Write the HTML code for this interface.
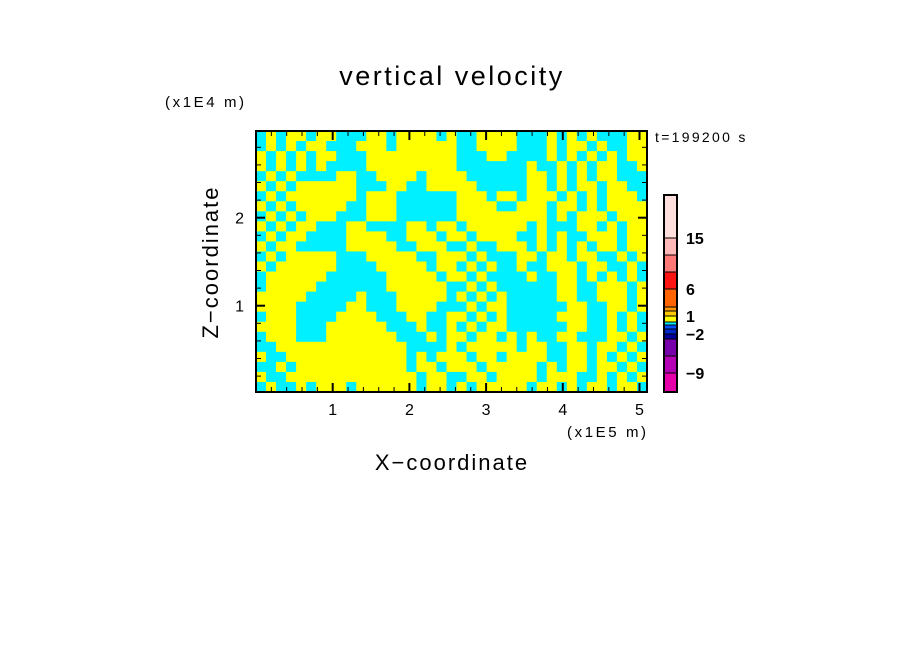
<!DOCTYPE html>
<html><head><meta charset="utf-8"><style>
body{margin:0;background:#fff;}
svg{display:block;font-family:"Liberation Sans",sans-serif;}
</style></head><body>
<svg id="chart" width="904" height="654">
<rect width="904" height="654" fill="#fff"/>
<g id="field"></g>
<g id="axes"></g>
<g id="cbar"></g>
<text x="452" y="85" font-size="27" letter-spacing="2.5" text-anchor="middle">vertical velocity</text>
<text x="165" y="107" font-size="15" letter-spacing="2.6">(x1E4 m)</text>
<text x="567" y="437" font-size="15" letter-spacing="2.6">(x1E5 m)</text>
<text x="452" y="470" font-size="22" letter-spacing="2" text-anchor="middle">X−coordinate</text>
<text transform="translate(218,262) rotate(-90)" font-size="22" letter-spacing="2" text-anchor="middle">Z−coordinate</text>
<text x="655" y="142" font-size="14" letter-spacing="2.3">t=199200 s</text>
</svg>
<script>
const fieldRows = [
"CYCYYCYYCCCYYCYYYYCY"+"CCYYYYCCCYCYCYCCCYY",
"CYCYCYYCCCYYYCYYYYYY"+"CCYYYYCCCYCYYCYCCYY",
"YCYCYCYYCCCYYYYYYYYY"+"CCCYYCCCCYCYCYCYCYY",
"YCYCYCYCCCCYYYYYYYYY"+"CCCCCCCYCCYCYCYYCCY",
"CYCYCCCCYYCCYYYYCYYY"+"YCCCCCCYYCYCYCYYCCC",
"YCYCYYYYYYCCCYYCCYYY"+"YYCCCCCYYCYCYYCYYCC",
"CYCYYYYYYYCYYYCCCCCC"+"YYYCYYCYYYCYCYCYYYC",
"YCYCYYYYYCCYYYCCCCCC"+"YYYYCCYYYCYYCYCYYYY",
"CYCYCYYYCCCYYYCCCCCC"+"YYYYYYYYYCYCYYYCYYY",
"YCYCYYCCCYYCCCCYYCYY"+"CYYYYYYCYCCCYYCYCYY",
"CYCYYCCCCYYYYCCYYYCY"+"YCYYYYCCYCYCCYYYCYY",
"YCYYCCCCCYYYYYCCYYYC"+"CYCCYYYCYCYCYCYYCYY",
"CYCYYYYYCCCYYYYYCCYY"+"YCYCCCYYCYYCYYCCYCY",
"YCYYYYYYCCCCYYYYYCYY"+"CYCYCCYCCYYYCYYCCYC",
"CYYYYYYCCCCCCYYYYYCY"+"YCYCCCCYCCYYCYCYCYC",
"CYYYYYCCCCCCCYYYYYYC"+"CYCYCCCCCCYYCCYYYCY",
"YYYYYCCCCCYCCCYYYYYC"+"YCYCYCCCCCYYCCYYYCY",
"YYYYCCCCCYYCCCYYYYCC"+"CYCYYCCCCCCYYCCYYCY",
"CYYYCCCCYYYYCCCYYCCY"+"YCYCYCCCCCYYYCCYCYC",
"YYYYCCCYYYYYYCCCYCCY"+"CYCYYCCCCCCYYCCYCYC",
"CYYYCCCYYYYYYYCCCYCY"+"YCYYCYCYCCYYCCCYYCY",
"CCYYYYYYYYYYYYYCCCCY"+"CYYYYYCYYCCYYCYYCYC",
"YCCYYYYYYYYYYYYCYCYY"+"YCYYCYYYYCCYYCYCYCY",
"CCYCYYYYYYYYYYYCYYCY"+"YYCYYYYYCYCYYCYYCYC",
"YCCYYYYYYYYYYYYYCYYC"+"CYYCYYYYCYYYCCYCYCY",
"CYCCYCYYYCYYYYYYCYYC"+"YCYYYYYCYYCYCYYCYYC"
];
const xTicks = [1,2,3,4,5];
const zTicks = [1,2];
const cbColors = ["#e600aa","#b400b4","#7800aa","#0000a0","#0028c8","#0050ff","#00f0ff","#ffff00","#ffc800","#ff9600","#ff6400","#ff1414","#ff7878","#ffb8b8","#ffdede"];
const cbHeights = [19,17,17,5,5,4,3,6,5,4,18,17,17,17,43];
const cbLabels = ["−9","−2","1","6","15"];
const cbLabelIdx = [0,3,7,10,13];

const NS="http://www.w3.org/2000/svg";
const X0=256, X1=647, Y0=131, Y1=392;
const xs=v=>X0+v*76.7;
const zs=v=>393.7-v*88;
function el(t,a,p){const e=document.createElementNS(NS,t);for(const k in a)e.setAttribute(k,a[k]);p.appendChild(e);return e;}
const field=document.getElementById('field');
const nr=fieldRows.length, nc=fieldRows[0].length;
const cw=(X1-X0)/nc, ch=(Y1-Y0)/nr;
fieldRows.forEach((row,r)=>{
  for(let c=0;c<nc;c++){
    const rc=el('rect',{x:X0+c*cw,y:Y0+r*ch,width:cw+0.5,height:ch+0.5,fill:row[c]==='Y'?'#ffff00':'#00f0ff'},field);
    
    
  }
});
const ax=document.getElementById('axes');
const fr=el('rect',{x:X0,y:Y0,width:X1-X0,height:Y1-Y0,fill:'none',stroke:'#000','stroke-width':2},ax);


for(let i=1;i<=25;i++){
  const v=i*0.2, x=xs(v); if(x>X1) break;
  const L=(i%5===0)?9:5;
  el('line',{x1:x,y1:Y1,x2:x,y2:Y1-L,stroke:'#000','stroke-width':L>5?2:1},ax);
  el('line',{x1:x,y1:Y0,x2:x,y2:Y0+L,stroke:'#000','stroke-width':L>5?2:1},ax);
}
for(let i=1;i<=14;i++){
  const v=i*0.2, y=zs(v); if(y<Y0) break;
  const L=(i%5===0)?9:5;
  el('line',{x1:X0,y1:y,x2:X0+L,y2:y,stroke:'#000','stroke-width':L>5?2:1},ax);
  el('line',{x1:X1,y1:y,x2:X1-L,y2:y,stroke:'#000','stroke-width':L>5?2:1},ax);
}
xTicks.forEach(v=>{
  const t=el('text',{x:xs(v),y:415,'font-size':16,'text-anchor':'middle'},ax);
  t.textContent=v;
  
  
});
zTicks.forEach(v=>{
  const t=el('text',{x:244,y:zs(v)+6,'font-size':16,'text-anchor':'end'},ax);
  t.textContent=v;
  
  
});
const cb=document.getElementById('cbar');
let y=392;
const bounds=[];
cbColors.forEach((col,i)=>{
  const h=cbHeights[i]; y-=h;
  const r=el('rect',{x:664,y:y,width:13,height:h,fill:col,stroke:'#000','stroke-width':1},cb);
  
  
  bounds.push(y);
});
el('rect',{x:664,y:y,width:13,height:392-y,fill:'none',stroke:'#000','stroke-width':2},cb);
cbLabels.forEach((s,i)=>{
  const t=el('text',{x:686,y:bounds[cbLabelIdx[i]]+6,'font-size':16,'font-weight':'bold'},cb);
  t.textContent=s;
  
  
});
</script>
</body></html>
